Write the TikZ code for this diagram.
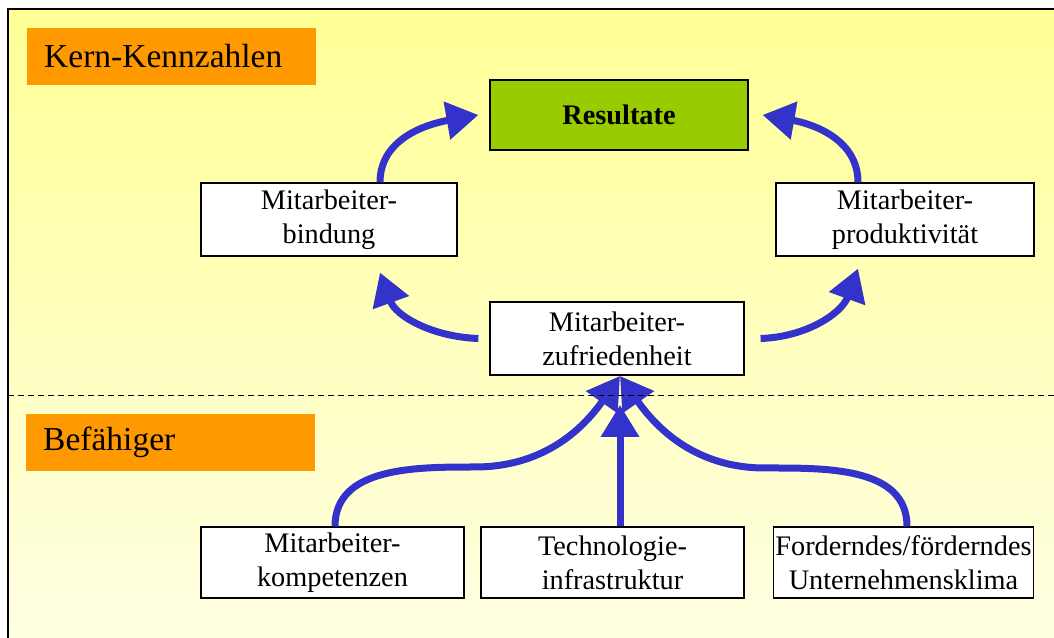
\documentclass[tikz,border=0pt]{standalone}
\usepackage{fontspec}
\setmainfont{Liberation Serif}
\usetikzlibrary{arrows.meta}

\definecolor{pale}{RGB}{255,255,150}
\definecolor{paler}{RGB}{255,255,228}
\definecolor{ebeneorange}{RGB}{255,153,0}
\definecolor{resgruen}{RGB}{153,204,0}
\definecolor{pfeilblau}{RGB}{51,51,204}

\tikzset{
  kasten/.style={draw=black, line width=1.2pt, fill=white, align=center, inner sep=2pt,
    font=\fontsize{28.3}{34}\selectfont},
  ebene/.style={fill=ebeneorange, anchor=west, minimum height=57pt, text width=255pt,
    inner xsep=17pt, align=left, font=\fontsize{33.5}{40}\selectfont},
  pfeil/.style={draw=pfeilblau, line width=7pt, -{Triangle[length=32pt,width=37pt]}},
}

\begin{document}
\begin{tikzpicture}[x=1pt,y=1pt]
      \clip (0,0) rectangle (1054,637);
      \fill[white] (0,0) rectangle (1054,637);
      \shade[top color=pale, bottom color=paler] (8,-10) rectangle (1064,628);
      \draw[line width=2pt] (8,-10) -- (8,628) -- (1064,628);

      % Ebenen
      \node[ebene] (kern) at (27,580.5) {Kern-Kennzahlen};
      \node[ebene] (befaehiger) at (26,194.5) {Befähiger};

      % Kennzahlen
      \node[kasten, fill=resgruen, minimum width=258pt, minimum height=70pt,
        font=\bfseries\fontsize{28.3}{34}\selectfont] (res) at (619,522) {Resultate};
      \node[kasten, minimum width=256pt, minimum height=73pt] (bind) at (329,417.5) {Mitarbeiter-\\bindung};
      \node[kasten, minimum width=258pt, minimum height=73pt] (prod) at (905,417.5) {Mitarbeiter-\\produktivität};
      \node[kasten, minimum width=254pt, minimum height=73pt] (zuf) at (617,298.5) {Mitarbeiter-\\zufriedenheit};

      % Befaehiger
      \node[kasten, minimum width=263pt, minimum height=71pt] (komp) at (332.5,74.5) {Mitarbeiter-\\kompetenzen};
      \node[kasten, minimum width=263pt, minimum height=71pt] (tech) at (612.5,74.5) {Technologie-\\infrastruktur};
      \node[kasten, minimum width=259pt, minimum height=71pt] (klima) at (903.5,74.5) {Forderndes/förderndes\\Unternehmensklima};

      \coordinate (hub) at (620,261);
      \coordinate (hubmid) at (620,232);
      \coordinate (lbend) at (475,170);
      \coordinate (rbend) at (765,169);

      \draw[pfeil] ([xshift=51pt]bind.north) to[out=90,in=190] ([xshift=-11pt]res.west);
      \draw[pfeil] ([xshift=-47pt]prod.north) to[out=90,in=-10] ([xshift=14pt]res.east);
      \draw[pfeil] ([xshift=-11pt]zuf.west) to[out=178,in=-70] ([xshift=51pt,yshift=-16pt]bind.south);
      \draw[pfeil] ([xshift=16pt]zuf.east) to[out=2,in=-110] ([xshift=-47pt,yshift=-12pt]prod.south);

      \draw[pfeil] (tech.north -| hubmid) -- (hubmid);
      \draw[pfeil] ([xshift=2.5pt]komp.north) to[out=90,in=180] (lbend) to[out=0,in=235] (hub);
      \draw[pfeil] ([xshift=3.5pt]klima.north) to[out=90,in=0] (rbend) to[out=180,in=-55] (hub);

      \draw[dashed, dash pattern=on 6pt off 4pt, line width=1pt] (8,241) -- (1054,241);
    \end{tikzpicture}
\end{document}
